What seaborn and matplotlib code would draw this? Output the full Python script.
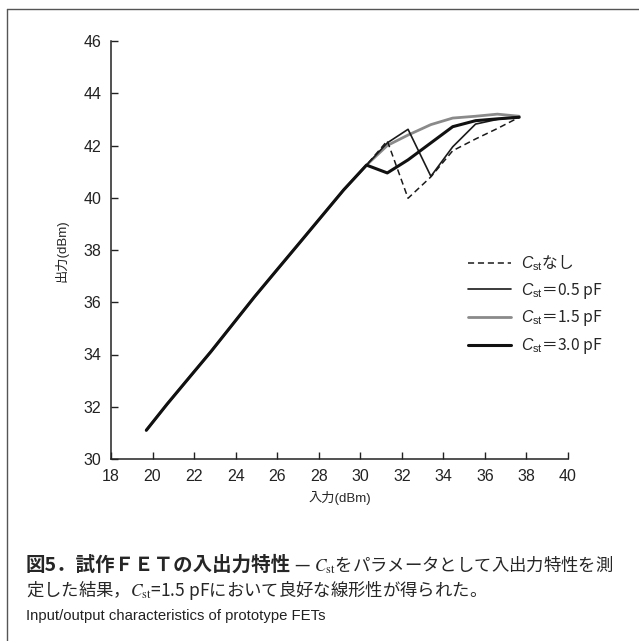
import matplotlib
matplotlib.use("Agg")
import matplotlib.pyplot as plt
from matplotlib.lines import Line2D
import pandas as pd
import seaborn as sns

# ---- data ----
input_common = [19.7, 20.7, 21.8, 22.8, 23.9, 24.9, 26.0, 27.0, 28.1, 29.2, 30.3]
output_common = [31.1, 32.1, 33.15, 34.1, 35.2, 36.2, 37.25, 38.2, 39.25, 40.3, 41.25]
input_high = [31.3, 32.3, 33.4, 34.45, 35.55, 36.6, 37.65]
out_none = [42.18, 39.98, 40.8, 41.8, 42.25, 42.65, 43.08]
out_05 = [42.1, 42.62, 40.82, 41.95, 42.82, 43.0, 43.1]
out_15 = [42.0, 42.4, 42.8, 43.05, 43.12, 43.2, 43.12]
out_30 = [40.95, 41.45, 42.1, 42.72, 42.95, 43.02, 43.08]

series_names = ["none", "0.5", "1.5", "3.0"]
series_labels = [r"$C_{\mathrm{st}}$なし", r"$C_{\mathrm{st}}$＝0.5 pF",
                 r"$C_{\mathrm{st}}$＝1.5 pF", r"$C_{\mathrm{st}}$＝3.0 pF"]
x_ticks = [18, 20, 22, 24, 26, 28, 30, 32, 34, 36, 38, 40]
y_ticks = [30, 32, 34, 36, 38, 40, 42, 44, 46]

rows = []
for name, hi in zip(series_names, [out_none, out_05, out_15, out_30]):
    for x, y in zip(input_common + input_high, output_common + hi):
        rows.append({"series": name, "input": x, "output": y})
df = pd.DataFrame(rows)

sns.set_style("ticks")
plt.rcParams["font.family"] = ["Liberation Sans", "Noto Sans CJK JP", "DejaVu Sans"]
plt.rcParams["mathtext.fontset"] = "custom"
plt.rcParams["mathtext.rm"] = "Liberation Sans"
plt.rcParams["mathtext.it"] = "Liberation Sans:italic"

fig = plt.figure(figsize=(6.39, 6.41), dpi=100)
ax = fig.add_axes([111 / 639, 1 - 459 / 641, 457 / 639, 418 / 641])

styles = {
    "1.5": dict(color="#8a8a8a", lw=2.0, ls="-"),
    "none": dict(color="#1a1a1a", lw=1.1, ls=(0, (4, 2.5))),
    "0.5": dict(color="#1a1a1a", lw=1.2, ls="-"),
    "3.0": dict(color="#111111", lw=2.2, ls="-"),
}
for name in ["1.5", "none", "0.5", "3.0"]:
    st = styles[name]
    sns.lineplot(data=df[df["series"] == name], x="input", y="output",
                 color=st["color"], linewidth=st["lw"], linestyle=st["ls"],
                 sort=False, estimator=None, ax=ax, legend=False)

ax.set_xlim(18, 40)
ax.set_ylim(30, 46)
ax.set_xticks(x_ticks)
ax.set_yticks(y_ticks)
ax.tick_params(direction="in", length=5, width=1, labelsize=11.5, pad=7, colors="#222222")
for side in ["top", "right"]:
    ax.spines[side].set_visible(False)
for side in ["left", "bottom"]:
    ax.spines[side].set_linewidth(1.1)
    ax.spines[side].set_color("#222222")

ax.set_xlabel("入力(dBm)", fontsize=9.5, family=["Liberation Sans", "Noto Sans CJK JP"])
ax.set_ylabel("出力(dBm)", fontsize=9.5, family=["Liberation Sans", "Noto Sans CJK JP"])
ax.xaxis.set_label_coords((340 - 111) / 457, -(498 - 459) / 418)
ax.yaxis.set_label_coords(-(111 - 62) / 457, 1 - (251 - 41) / 418)
ax.xaxis.label.set_va("center")
ax.yaxis.label.set_va("center")

handles = []
for name, lab in zip(series_names, series_labels):
    st = styles[name]
    handles.append(Line2D([], [], color=st["color"], lw=st["lw"], ls=st["ls"], label=lab))
leg = ax.legend(handles=handles, loc="upper left",
                bbox_to_anchor=((468 - 111) / 457, 1 - (252 - 41) / 418),
                frameon=False, fontsize=11.3, handlelength=2.75, handletextpad=0.6,
                labelspacing=0.5, borderpad=0, borderaxespad=0)
for t in leg.get_texts():
    t.set_family(["Noto Sans CJK JP", "Liberation Sans"])

# ---- caption ----
cap_fam = ["Noto Sans CJK JP", "DejaVu Sans"]
renderer = fig.canvas.get_renderer()
y1 = 1 - 565 / 641
t1 = fig.text(26 / 639, y1, "図5．試作ＦＥＴの入出力特性", fontsize=14, fontweight="bold",
              family=cap_fam, va="center", ha="left")
bb = t1.get_window_extent(renderer=renderer)
fig.text(bb.x1 / fig.bbox.width, y1,
         r" — $C_{\mathrm{st}}$をパラメータとして入出力特性を測",
         fontsize=12.5, family=cap_fam, va="center", ha="left", math_fontfamily="stix")
fig.text(26 / 639, 1 - 590 / 641,
         r"定した結果，$C_{\mathrm{st}}$=1.5 pFにおいて良好な線形性が得られた。",
         fontsize=12.5, family=cap_fam, va="center", ha="left", math_fontfamily="stix")
fig.text(26 / 639, 1 - 616 / 641, "Input/output characteristics of prototype FETs",
         fontsize=10.7, family=["Liberation Sans"], va="center", ha="left", color="#222222")

# ---- outer frame ----
fig.add_artist(Line2D([7 / 639, 1], [1 - 9 / 641, 1 - 9 / 641], color="#555555", lw=1.0,
                      transform=fig.transFigure))
fig.add_artist(Line2D([7 / 639, 7 / 639], [0, 1 - 9 / 641], color="#555555", lw=1.0,
                      transform=fig.transFigure))

fig.savefig("out.png", dpi=100)
